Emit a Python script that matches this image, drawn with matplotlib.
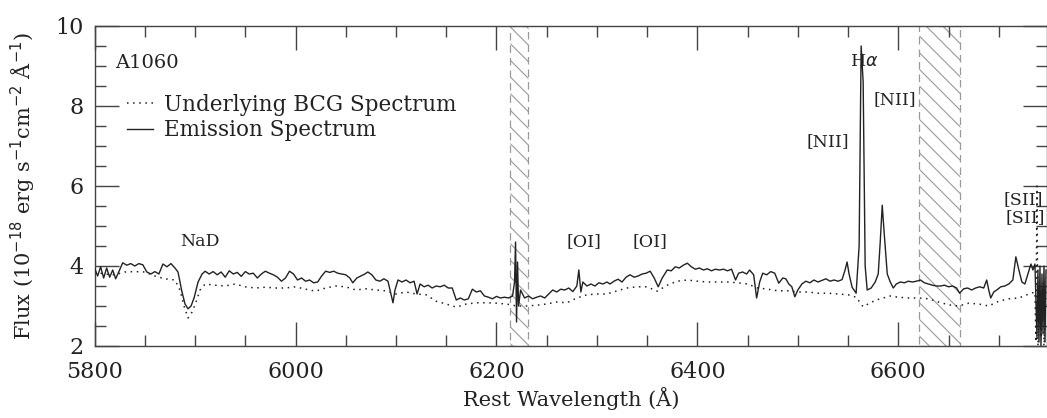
import matplotlib
matplotlib.use("Agg")
import matplotlib.pyplot as plt
from matplotlib.ticker import MultipleLocator

plt.rcParams['font.family'] = ['DejaVu Serif']
plt.rcParams['hatch.linewidth'] = 0.8

# Emission (observed) spectrum of the A1060 BCG
emis_wave = [5800, 5803, 5806, 5809, 5812, 5815, 5818, 5821, 5824, 5828, 5832, 5836, 5840, 5844, 5848,
             5852, 5856, 5860, 5864, 5868, 5872, 5876, 5880, 5883, 5887, 5890, 5893, 5896, 5899, 5903,
             5907, 5910, 5914, 5918, 5922, 5926, 5930, 5934, 5938, 5942, 5946, 5950, 5954, 5958, 5962,
             5966, 5970, 5974, 5978, 5982, 5986, 5990, 5994, 5998, 6002, 6006, 6010, 6014, 6018, 6022,
             6026, 6030, 6034, 6038, 6042, 6046, 6050, 6054, 6057, 6061, 6065, 6069, 6072, 6076, 6080,
             6084, 6088, 6092, 6095, 6097, 6099, 6102, 6106, 6110, 6114, 6118, 6121, 6124, 6128, 6132,
             6136, 6140, 6144, 6148, 6152, 6156, 6160, 6164, 6168, 6172, 6176, 6180, 6184, 6188, 6192,
             6196, 6200, 6204, 6208, 6212, 6216, 6218, 6219, 6220, 6221, 6222, 6224, 6228, 6232, 6236,
             6240, 6244, 6248, 6252, 6256, 6260, 6264, 6268, 6272, 6276, 6280, 6282, 6284, 6286, 6290,
             6294, 6298, 6302, 6306, 6310, 6313, 6317, 6321, 6325, 6329, 6333, 6337, 6341, 6345, 6349,
             6353, 6357, 6361, 6365, 6370, 6374, 6378, 6382, 6386, 6390, 6394, 6398, 6402, 6406, 6410,
             6414, 6418, 6422, 6426, 6430, 6434, 6438, 6441, 6445, 6449, 6452, 6456, 6459, 6462, 6465,
             6469, 6473, 6477, 6481, 6485, 6488, 6491, 6494, 6497, 6500, 6504, 6508, 6512, 6516, 6520,
             6524, 6528, 6532, 6536, 6540, 6544, 6547, 6549, 6551, 6554, 6558, 6561, 6563, 6565, 6567,
             6569, 6573, 6577, 6580, 6582, 6584, 6586, 6589, 6592, 6595, 6598, 6602, 6606, 6610, 6614,
             6618, 6622, 6626, 6630, 6634, 6638, 6642, 6646, 6650, 6654, 6658, 6661, 6665, 6669, 6673,
             6677, 6681, 6685, 6688, 6690, 6692, 6695, 6698, 6702, 6706, 6710, 6714, 6717, 6720, 6723,
             6726, 6729, 6732, 6734, 6736, 6738, 6739, 6740, 6741, 6742, 6743, 6744, 6745, 6746, 6747]
emis_flux = [3.95, 3.75, 3.98, 3.70, 3.95, 3.72, 3.90, 3.68, 3.85, 4.08, 4.02, 4.06, 4.00, 4.06, 4.03,
             3.85, 3.80, 3.86, 3.80, 4.05, 3.98, 4.06, 3.95, 3.85, 3.35, 3.05, 2.93, 3.00, 3.20, 3.60,
             3.80, 3.87, 3.80, 3.86, 3.78, 3.85, 3.72, 3.88, 3.80, 3.84, 3.74, 3.86, 3.80, 3.82, 3.70,
             3.80, 3.87, 3.82, 3.78, 3.72, 3.62, 3.70, 3.87, 3.80, 3.65, 3.70, 3.62, 3.65, 3.58, 3.60,
             3.75, 3.87, 3.84, 3.87, 3.82, 3.80, 3.78, 3.70, 3.58, 3.70, 3.75, 3.80, 3.85, 3.78, 3.65,
             3.62, 3.68, 3.62, 3.30, 3.08, 3.40, 3.65, 3.60, 3.65, 3.58, 3.62, 3.30, 3.55, 3.48, 3.52,
             3.45, 3.50, 3.48, 3.52, 3.45, 3.45, 3.15, 3.20, 3.15, 3.18, 3.42, 3.35, 3.38, 3.25, 3.22,
             3.18, 3.24, 3.20, 3.22, 3.20, 3.25, 3.60, 4.60, 2.60, 4.10, 3.00, 3.40, 3.20, 3.25, 3.18,
             3.22, 3.25, 3.20, 3.30, 3.40, 3.35, 3.42, 3.40, 3.45, 3.36, 3.50, 3.90, 3.35, 3.60, 3.50,
             3.55, 3.50, 3.58, 3.55, 3.60, 3.55, 3.62, 3.67, 3.60, 3.72, 3.78, 3.72, 3.75, 3.80, 3.82,
             3.87, 3.70, 3.48, 3.70, 3.90, 3.88, 3.98, 3.95, 4.02, 4.07, 3.98, 3.92, 3.95, 3.90, 3.93,
             3.88, 3.92, 3.90, 3.92, 3.88, 3.92, 3.65, 3.82, 3.85, 3.80, 3.90, 3.78, 3.20, 3.60, 3.82,
             3.78, 3.86, 3.82, 3.57, 3.70, 3.68, 3.55, 3.48, 3.23, 3.40, 3.55, 3.62, 3.58, 3.65, 3.60,
             3.64, 3.68, 3.62, 3.65, 3.62, 3.66, 3.90, 4.10, 3.80, 3.47, 3.32, 4.50, 9.50, 8.60, 4.00,
             3.40, 3.45, 3.60, 3.80, 4.60, 5.52, 4.80, 3.80, 3.60, 3.45, 3.55, 3.60, 3.58, 3.62, 3.60,
             3.62, 3.65, 3.58, 3.55, 3.52, 3.50, 3.50, 3.52, 3.48, 3.50, 3.45, 3.32, 3.43, 3.45, 3.40,
             3.45, 3.48, 3.45, 3.65, 3.40, 3.20, 3.35, 3.40, 3.48, 3.50, 3.55, 3.65, 4.23, 3.90, 3.60,
             3.55, 3.80, 4.05, 3.90, 4.05, 2.20, 3.90, 2.10, 4.00, 2.00, 3.80, 2.30, 4.00, 2.10, 3.90]

# Underlying BCG (stellar) spectrum
bcg_wave = [5800, 5810, 5820, 5830, 5840, 5850, 5860, 5870, 5880, 5885, 5889, 5893, 5897, 5901, 5905,
            5910, 5920, 5930, 5940, 5950, 5960, 5970, 5980, 5990, 6000, 6010, 6020, 6030, 6040, 6050,
            6060, 6070, 6080, 6090, 6100, 6110, 6120, 6130, 6140, 6150, 6160, 6170, 6180, 6190, 6200,
            6210, 6220, 6230, 6240, 6250, 6260, 6270, 6280, 6290, 6300, 6310, 6320, 6330, 6340, 6350,
            6360, 6370, 6380, 6390, 6400, 6410, 6420, 6430, 6440, 6450, 6460, 6470, 6480, 6490, 6500,
            6510, 6520, 6530, 6540, 6550, 6558, 6565, 6572, 6578, 6585, 6592, 6600, 6610, 6620, 6630,
            6640, 6650, 6660, 6670, 6680, 6690, 6700, 6710, 6720, 6730, 6736, 6737, 6738, 6739, 6741,
            6742, 6744, 6745, 6747]
bcg_flux = [3.85, 3.80, 3.78, 3.85, 3.86, 3.85, 3.75, 3.68, 3.65, 3.40, 3.00, 2.70, 2.85, 3.10, 3.40,
            3.55, 3.52, 3.50, 3.55, 3.48, 3.45, 3.47, 3.45, 3.45, 3.48, 3.42, 3.37, 3.45, 3.50, 3.48,
            3.40, 3.43, 3.40, 3.38, 3.30, 3.35, 3.30, 3.28, 3.12, 3.05, 2.97, 3.05, 3.08, 3.08, 3.07,
            3.05, 3.00, 3.00, 3.02, 3.05, 3.10, 3.08, 3.20, 3.28, 3.30, 3.30, 3.38, 3.45, 3.48, 3.48,
            3.37, 3.52, 3.62, 3.65, 3.62, 3.60, 3.60, 3.60, 3.58, 3.55, 3.45, 3.42, 3.38, 3.38, 3.35,
            3.35, 3.32, 3.32, 3.30, 3.28, 3.22, 2.98, 3.08, 3.15, 3.20, 3.25, 3.22, 3.20, 3.20, 3.18,
            3.10, 3.03, 3.00, 3.07, 3.05, 3.00, 3.12, 3.18, 3.20, 3.30, 3.35, 2.10, 6.00, 2.00, 3.50,
            2.20, 3.60, 2.00, 3.40]

# Regions affected by sky-line residuals
bad_regions = [(6213, 6231), (6621, 6661)]

# Line identifications: (label, wavelength, flux)
line_labels = [("NaD", 5905, 4.62), ("[OI]", 6287, 4.62), ("[OI]", 6353, 4.62),
               ("[NII]", 6530, 7.12), (r"H$\alpha$", 6566, 9.1), ("[NII]", 6597, 8.15),
               ("[SII]", 6724, 5.65), ("[SII]", 6726, 5.2)]

fig = plt.figure(figsize=(10.47, 4.18), dpi=100)
ax = fig.add_axes([94.6 / 1047, 72 / 418, 952.4 / 1047, 320 / 418])

ink = '#222222'
for lo, hi in bad_regions:
    ax.axvspan(lo, hi, facecolor='none', edgecolor='#9a9a9a', hatch='\\\\', linestyle=(0, (6, 4)),
               linewidth=0.9, zorder=1)

ax.plot(bcg_wave, bcg_flux, color=ink, linestyle=(0, (1, 3)), linewidth=1.1,
        label='Underlying BCG Spectrum', zorder=2)
ax.plot(emis_wave, emis_flux, color=ink, linewidth=1.0, label='Emission Spectrum', zorder=3)

for text, wl, fl in line_labels:
    ax.text(wl, fl, text, fontsize=12.5, ha='center', va='center', color=ink)

ax.text(5820, 9.08, 'A1060', fontsize=14, ha='left', va='center', color=ink)

leg = ax.legend(loc='upper left', bbox_to_anchor=(0.025, 0.815), frameon=False, fontsize=15.5,
                handlelength=1.2, handletextpad=0.5, labelspacing=0.15, borderaxespad=0)
for t in leg.get_texts():
    t.set_color(ink)

ax.set_xlim(5800, 6748)
ax.set_ylim(2, 10)
ax.xaxis.set_major_locator(MultipleLocator(200))
ax.xaxis.set_minor_locator(MultipleLocator(50))
ax.yaxis.set_major_locator(MultipleLocator(2))
ax.yaxis.set_minor_locator(MultipleLocator(0.5))
ax.tick_params(which='both', direction='in', top=True, right=True, colors='#444444',
               labelcolor=ink, labelsize=16)
ax.tick_params(which='major', length=17, width=1.0)
ax.tick_params(which='minor', length=8, width=1.0)
ax.tick_params(axis='x', which='major', pad=11)
ax.tick_params(axis='y', which='major', pad=8)
for sp in ax.spines.values():
    sp.set_color('#444444')
    sp.set_linewidth(1.0)

ax.set_xlabel('Rest Wavelength (Å)', fontsize=15, color=ink, labelpad=3)
ax.set_ylabel(r'Flux (10$^{-18}$ erg s$^{-1}$cm$^{-2}$ Å$^{-1}$)', fontsize=15, color=ink, labelpad=12)

fig.savefig('out.png', dpi=100)
